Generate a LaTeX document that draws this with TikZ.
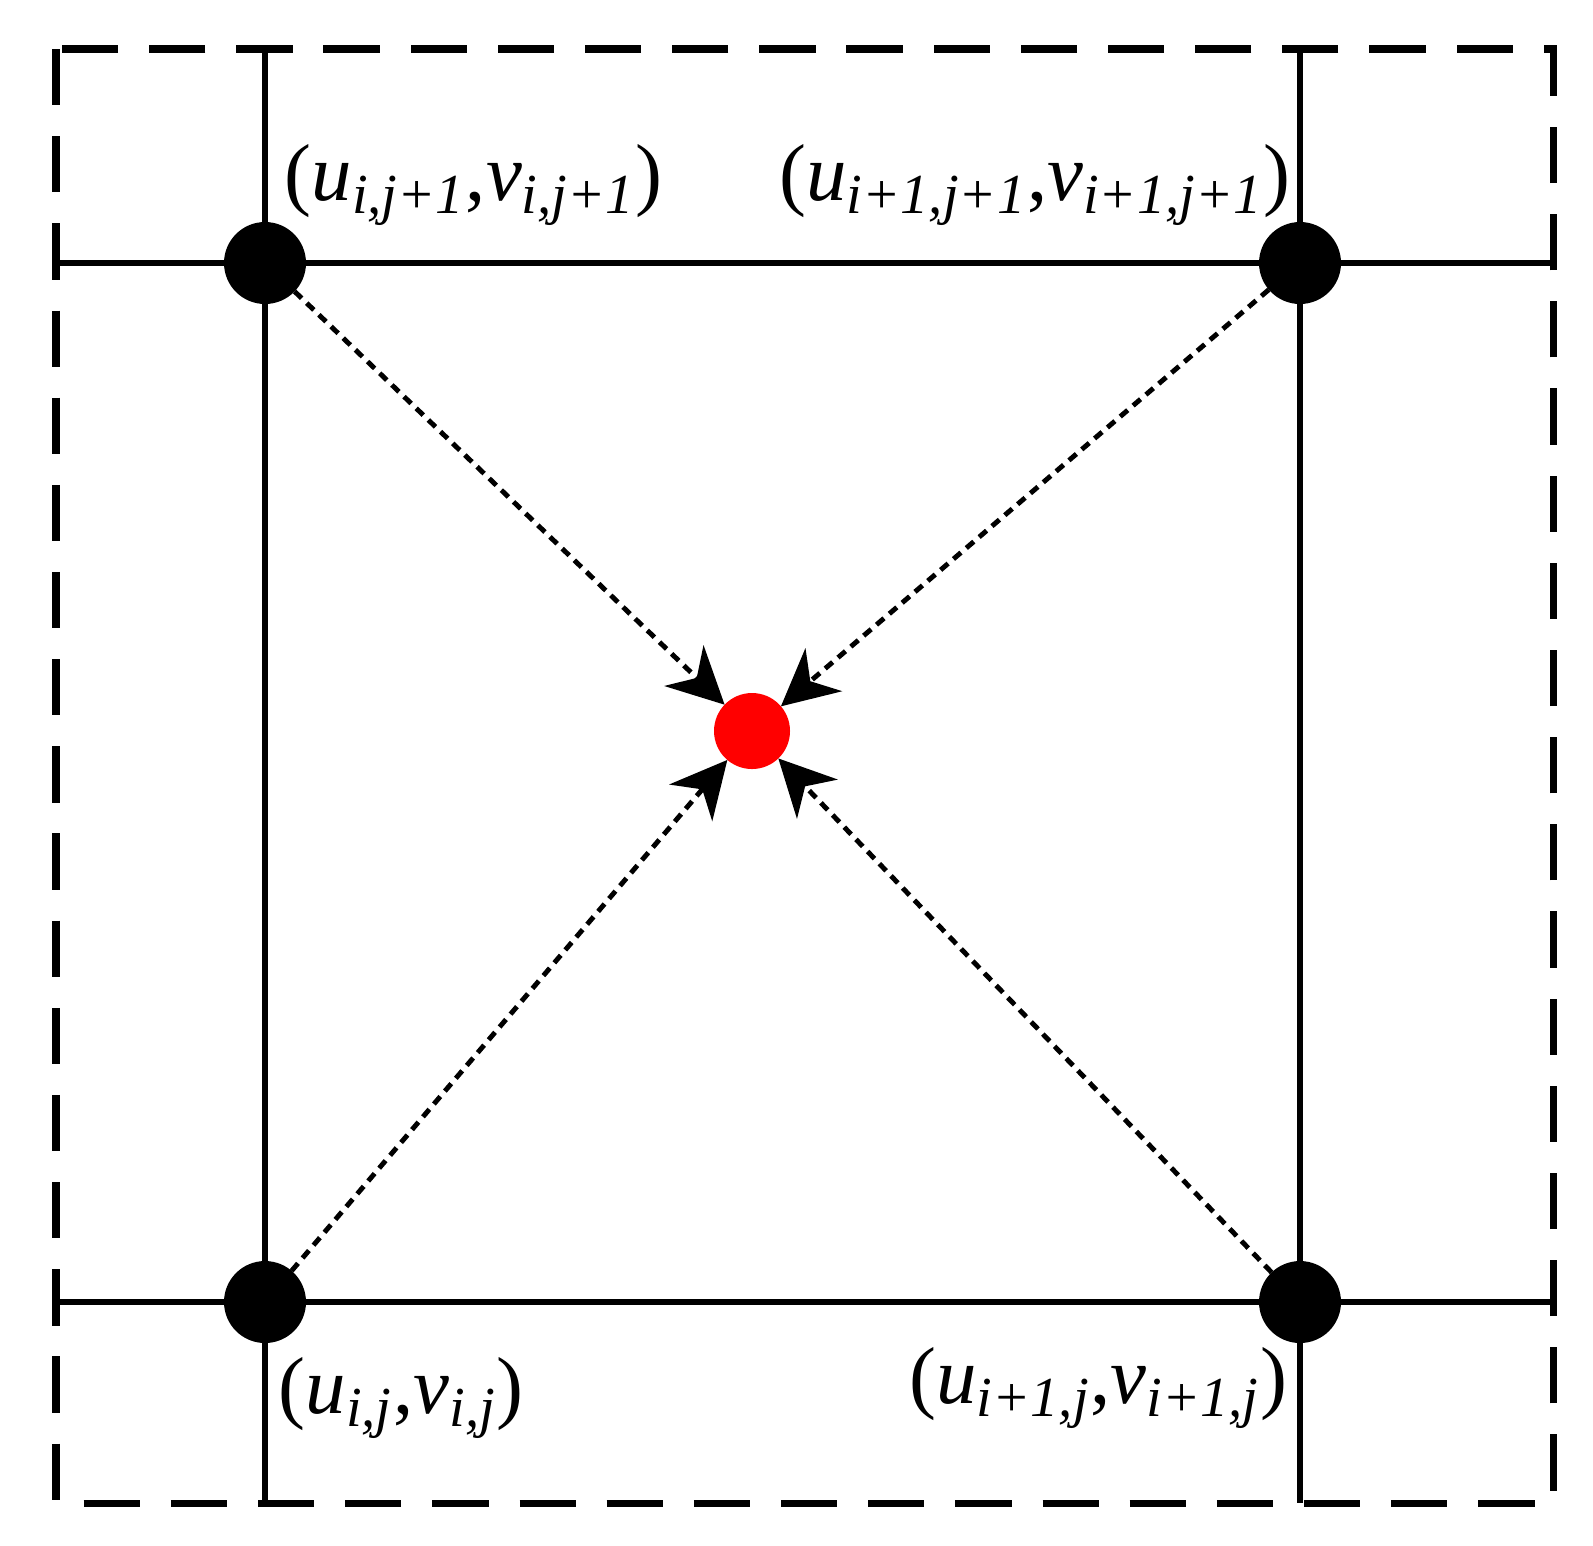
\documentclass[tikz,border=0pt]{standalone}
\usepackage{fontspec}
\setmainfont{Liberation Serif}
\usetikzlibrary{arrows.meta}

% corner value (u_{..}, v_{..}) in italic text
\newcommand{\crd}[1]{(\textit{u}\textsubscript{\itshape #1},\textit{v}\textsubscript{\itshape #1})}

\begin{document}
\begin{tikzpicture}[x=0.1mm, y=-0.1mm,
  frame/.style={black, line width=2pt, dash pattern=on 16pt off 8.8pt},
  gridline/.style={black, line width=1.7pt},
  knot/.style={circle, fill=black, minimum size=0.82cm, inner sep=0pt, outer sep=0pt},
  target/.style={circle, fill=red, minimum size=0.76cm, inner sep=0pt, outer sep=0pt},
  flow/.style={black, line width=1.4pt, dash pattern=on 2.8pt off 2pt,
    -{Stealth[length=16pt, width=16pt, inset=5pt]}},
  lbl/.style={inner sep=0pt, font=\fontsize{23}{28}\selectfont}]

  \useasboundingbox (0,0) rectangle (1593,1545);

% FRAME
  \draw[frame] (56,49) rectangle (1553,1503);

% GRID
  \draw[gridline] ( 265,  49) -- ( 265, 1503);
  \draw[gridline] (1300,  49) -- (1300, 1503);
  \draw[gridline] (  56, 263) -- (1553,  263);
  \draw[gridline] (  56,1302) -- (1553, 1302);

% KNOTS
  \node[knot] (tl) at ( 265, 263) {};
  \node[knot] (tr) at (1300, 263) {};
  \node[knot] (bl) at ( 265,1302) {};
  \node[knot] (br) at (1300,1302) {};
  \node[target] (ctr) at (752,731) {};

% ARROWS
  \foreach \k in {tl,tr,bl,br}
      \draw[flow] (\k) -- (ctr);

% LABELS
  \node[lbl, anchor=base west] (ltl) at ( 284, 200) {\crd{i,j+1}};
  \node[lbl, anchor=base east] (ltr) at (1291, 200) {\crd{i+1,j+1}};
  \node[lbl, anchor=base west] (lbl) at ( 278,1413) {\crd{i,j}};
  \node[lbl, anchor=base east] (lbr) at (1288,1403) {\crd{i+1,j}};
\end{tikzpicture}
\end{document}
